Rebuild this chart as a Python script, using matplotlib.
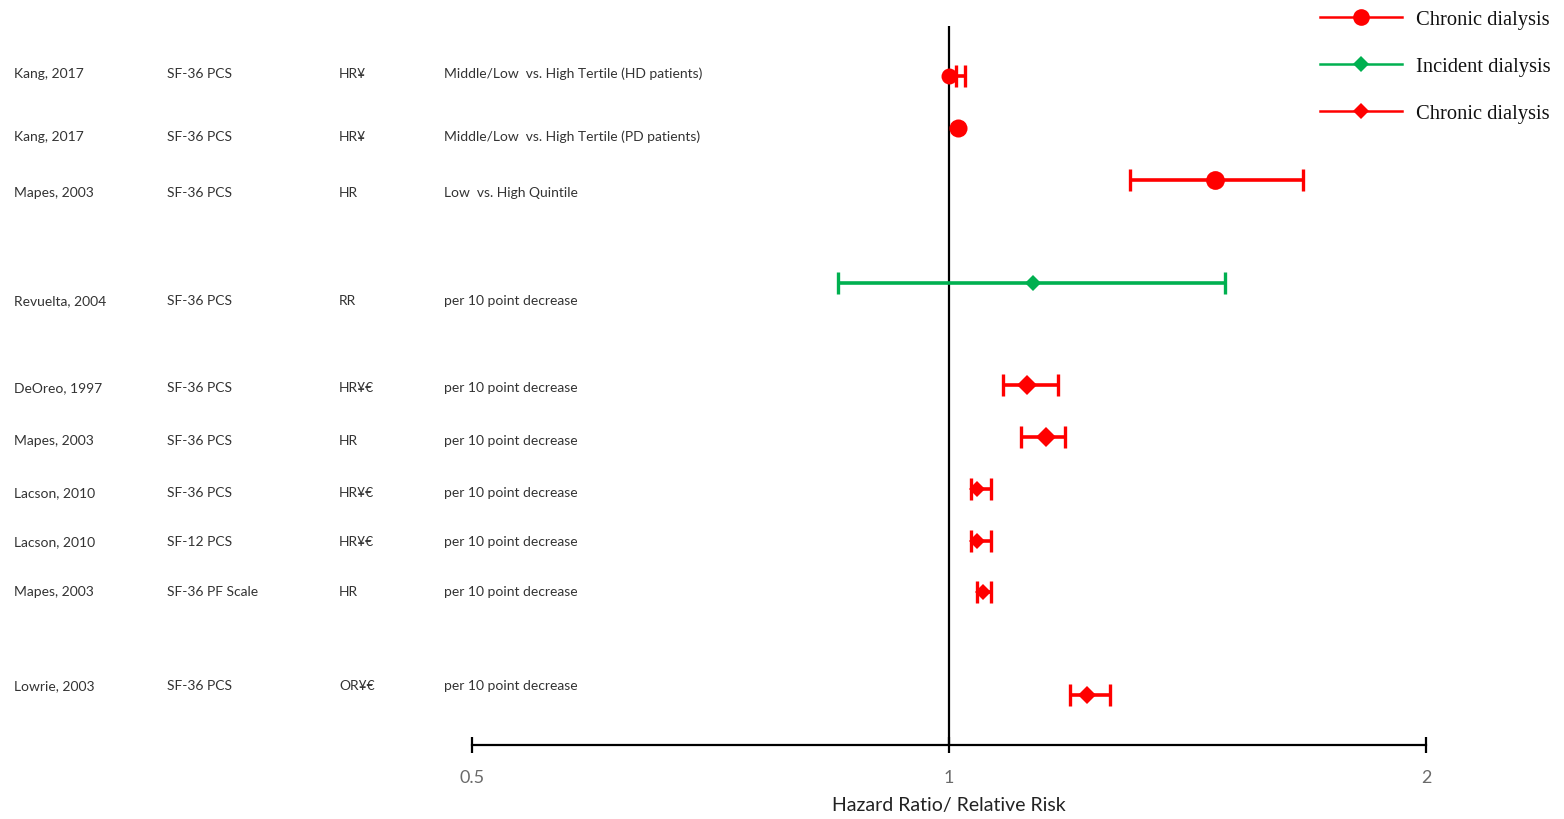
import matplotlib
matplotlib.use("Agg")
import matplotlib.pyplot as plt
from matplotlib.lines import Line2D

# ---------------- data ----------------
authors = ["Kang, 2017", "Kang, 2017", "Mapes, 2003", "Revuelta, 2004", "DeOreo, 1997",
           "Mapes, 2003", "Lacson, 2010", "Lacson, 2010", "Mapes, 2003", "Lowrie, 2003"]
measures = ["SF-36 PCS", "SF-36 PCS", "SF-36 PCS", "SF-36 PCS", "SF-36 PCS",
            "SF-36 PCS", "SF-36 PCS", "SF-12 PCS", "SF-36 PF Scale", "SF-36 PCS"]
effect_types = ["HR\u00a5", "HR\u00a5", "HR", "RR", "HR\u00a5\u20ac",
                "HR", "HR\u00a5\u20ac", "HR\u00a5\u20ac", "HR", "OR\u00a5\u20ac"]
comparisons = ["Middle/Low  vs. High Tertile (HD patients)",
               "Middle/Low  vs. High Tertile (PD patients)",
               "Low  vs. High Quintile",
               "per 10 point decrease", "per 10 point decrease", "per 10 point decrease",
               "per 10 point decrease", "per 10 point decrease", "per 10 point decrease",
               "per 10 point decrease"]
estimates = [1.00, 1.013, 1.472, 1.130, 1.120, 1.151, 1.041, 1.041, 1.051, 1.222]
ci_low    = [1.010, 1.013, 1.301, 0.851, 1.082, 1.110, 1.032, 1.032, 1.041, 1.192]
ci_high   = [1.023, 1.013, 1.673, 1.493, 1.172, 1.184, 1.063, 1.063, 1.063, 1.263]
groups    = ["chronic_c", "chronic_c", "chronic_c", "incident", "chronic_d",
             "chronic_d", "chronic_d", "chronic_d", "chronic_d", "chronic_d"]
legend_labels = ["Chronic dialysis", "Incident dialysis", "Chronic dialysis"]
x_ticks = [0.5, 1, 2]
x_ticklabels = ["0.5", "1", "2"]
x_label = "Hazard Ratio/ Relative Risk"

# ---------------- layout / style ----------------
W, H = 1564, 820
marker_rows = [77, 129, 181, 284, 386, 438, 490, 542, 593, 696]   # pixel rows of marks
text_rows = [74, 137, 193, 301, 388, 441, 493, 542, 592, 686]     # pixel rows of text
col_x = [14, 167, 339, 444]
marker_sizes = [11.5, 13, 13.5, 9, 11.5, 12.5, 10, 10, 10, 10.5]
RED = "#FF0000"
GREEN = "#00B050"
style = {"chronic_c": dict(color=RED, marker="o"),
         "incident": dict(color=GREEN, marker="D"),
         "chronic_d": dict(color=RED, marker="D")}
TXT = "#333333"
SANS = ["Lato", "DejaVu Sans"]

fig = plt.figure(figsize=(W / 100, H / 100), dpi=100)
ax_left, ax_right, ax_bot, ax_top = 472, 1426, 746, 27
ax = fig.add_axes([ax_left / W, 1 - ax_bot / H, (ax_right - ax_left) / W, (ax_bot - ax_top) / H])
ax.set_xscale("log", base=2)
ax.set_xlim(0.5, 2)
ax.set_ylim(ax_bot, ax_top)

ELW, CAP, CAPT = 2.6, 8, 2.4
for i in range(len(estimates)):
    st = style[groups[i]]
    sz = marker_sizes[i] * (0.85 if st["marker"] == "D" else 1.0)
    lo, hi = ci_low[i], ci_high[i]
    if hi > lo:
        mid = (lo * hi) ** 0.5
        ax.errorbar([mid], [marker_rows[i]], xerr=[[mid - lo], [hi - mid]],
                    fmt="none", ecolor=st["color"], elinewidth=ELW, capsize=CAP,
                    capthick=CAPT, zorder=3, clip_on=False)
    ax.plot([estimates[i]], [marker_rows[i]], linestyle="none", marker=st["marker"],
            color=st["color"], markersize=sz, markeredgewidth=0, zorder=4, clip_on=False)

ax.axvline(1, color="black", lw=1.6, zorder=2)

for s in ["top", "left", "right"]:
    ax.spines[s].set_visible(False)
ax.spines["bottom"].set_linewidth(1.6)
ax.set_yticks([])
ax.set_xticks(x_ticks)
ax.set_xticklabels(x_ticklabels)
ax.minorticks_off()
ax.tick_params(axis="x", direction="inout", length=11, width=1.6, pad=12,
               labelsize=13, labelcolor="#6a6a6a")
for lab in ax.get_xticklabels():
    lab.set_family(SANS)
ax.set_xlabel(x_label, fontsize=14, color="#222222", family=SANS, labelpad=8)

# table text
cols = [authors, measures, effect_types, comparisons]
for row in range(len(authors)):
    for c, col in enumerate(cols):
        fig.text(col_x[c] / W, 1 - text_rows[row] / H, col[row], ha="left", va="center",
                 fontsize=10, color=TXT, family=SANS)

# legend
handles = [Line2D([], [], color=RED, marker="o", lw=1.8, markersize=12, markeredgewidth=0),
           Line2D([], [], color=GREEN, marker="D", lw=1.8, markersize=8, markeredgewidth=0),
           Line2D([], [], color=RED, marker="D", lw=1.8, markersize=8, markeredgewidth=0)]
leg = fig.legend(handles, legend_labels, loc="upper left",
                 bbox_to_anchor=(1301 / W, 1 - (-8) / H), frameon=False,
                 prop={"family": ["Liberation Serif", "DejaVu Serif"], "size": 14.8},
                 handlelength=4.0, handletextpad=0.7, labelspacing=1.35)
for t in leg.get_texts():
    t.set_color("#111111")

fig.savefig("out.png", dpi=100)
